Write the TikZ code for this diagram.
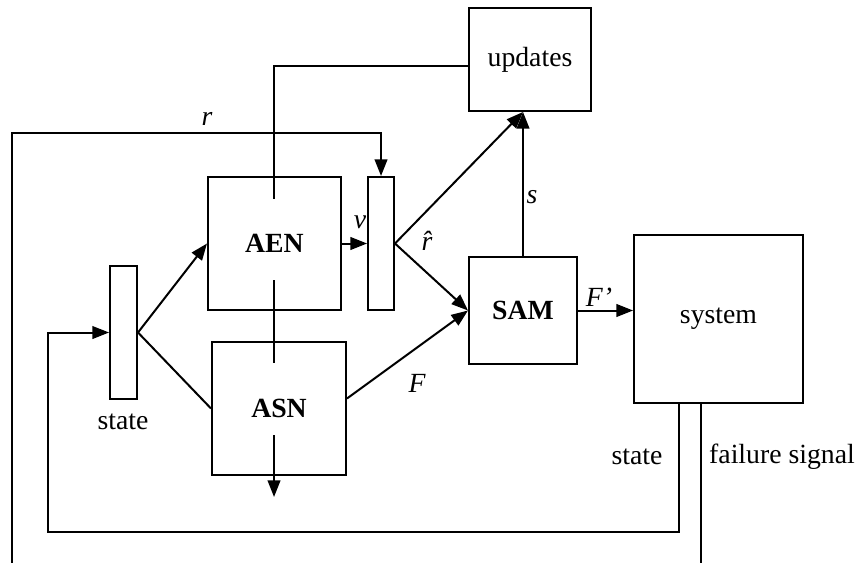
\documentclass[tikz,border=0pt]{standalone}
\usepackage{fontspec}
\setmainfont{Liberation Serif}
\usetikzlibrary{arrows.meta,calc}
\begin{document}
\begin{tikzpicture}[x=0.75pt,y=-0.75pt,
  every node/.style={font=\fontsize{20.8}{25}\selectfont},
  line/.style={line width=1.5pt},
  arr/.style={line width=1.5pt,-{Triangle[length=12.5pt,width=9.5pt]}},
  box/.style={draw,line width=1.5pt,rectangle,inner sep=0pt},
  lbl/.style={inner sep=0pt,font=\fontsize{20.8}{25}\selectfont\itshape}]
\useasboundingbox (0,0) rectangle (864,563);
% boxes
\node[box,minimum width=91.5pt,minimum height=77.25pt] (updates) at (530,59.5) {updates};
\node[box,minimum width=99.75pt,minimum height=99.75pt] (AEN) at (274.5,243.5) {\textbf{AEN}};
\node[box,minimum width=100.5pt,minimum height=99.75pt] (ASN) at (279,408.5) {\textbf{ASN}};
\node[box,minimum width=19.5pt,minimum height=99.75pt] (rhat) at (381,243.5) {};
\node[box,minimum width=20.25pt,minimum height=99.75pt] (statebox) at (123.5,332.5) {};
\node[box,minimum width=81pt,minimum height=80.25pt] (SAM) at (523,310.5) {\textbf{SAM}};
\node[box,minimum width=126.75pt,minimum height=126pt] (system) at (718.5,319) {system};
% coordinates
\coordinate (rstart) at (12,563);
\coordinate (rtop) at (12,133);
\coordinate (aentop) at (274,199);
\coordinate (aenbot) at (274,280);
\coordinate (asntop) at (274,363);
\coordinate (asnbot) at (274,435);
\coordinate (asnout) at (274,497);
\coordinate (fb) at (48,532);
\coordinate (fail) at (701,563);
\coordinate (sysS) at ([xshift=-29.625pt]system.south);
\coordinate (sysF) at ([xshift=-13.125pt]system.south);
\coordinate (updIn) at ([xshift=-5.25pt]updates.south);
% connectors
\draw[arr] (rstart) -- (rtop) -| (rhat.north);
\draw[line] ([yshift=-4.875pt]updates.west) -| (aentop);
\draw[line] (aenbot) -- (asntop);
\draw[arr] (asnbot) -- (asnout);
\draw[arr] (statebox.east) -- (AEN.west);
\draw[line] (statebox.east) -- (ASN.west);
\draw[arr] (AEN.east) -- (rhat.west);
\draw[arr] (rhat.east) -- (updIn);
\draw[arr] (rhat.east) -- (SAM.west);
\draw[arr] ([yshift=7.5pt]ASN.east) -- (SAM.west);
\draw[arr] (SAM.north) -- (updIn);
\draw[arr] (SAM.east) -- (SAM.east -| system.west);
\draw[arr] (sysS) |- (fb) |- (statebox.west);
\draw[line] (sysF) -- (fail);
% labels
\node[lbl] (lr) at (207,119) {r};
\node[lbl] (lv) at (360,222) {v};
\node[lbl] (lrh) at (427,241) {\^{r}};
\node[lbl] (ls) at (532,197) {s};
\node[lbl] (lF) at (417,383) {F};
\node[lbl] (lFp) at (599,297) {F’};
\node[inner sep=0pt] (lstate1) at (123,422) {state};
\node[inner sep=0pt] (lstate2) at (637,457) {state};
\node[inner sep=0pt] (lfail) at (782,457) {failure signal};
\end{tikzpicture}
\end{document}
